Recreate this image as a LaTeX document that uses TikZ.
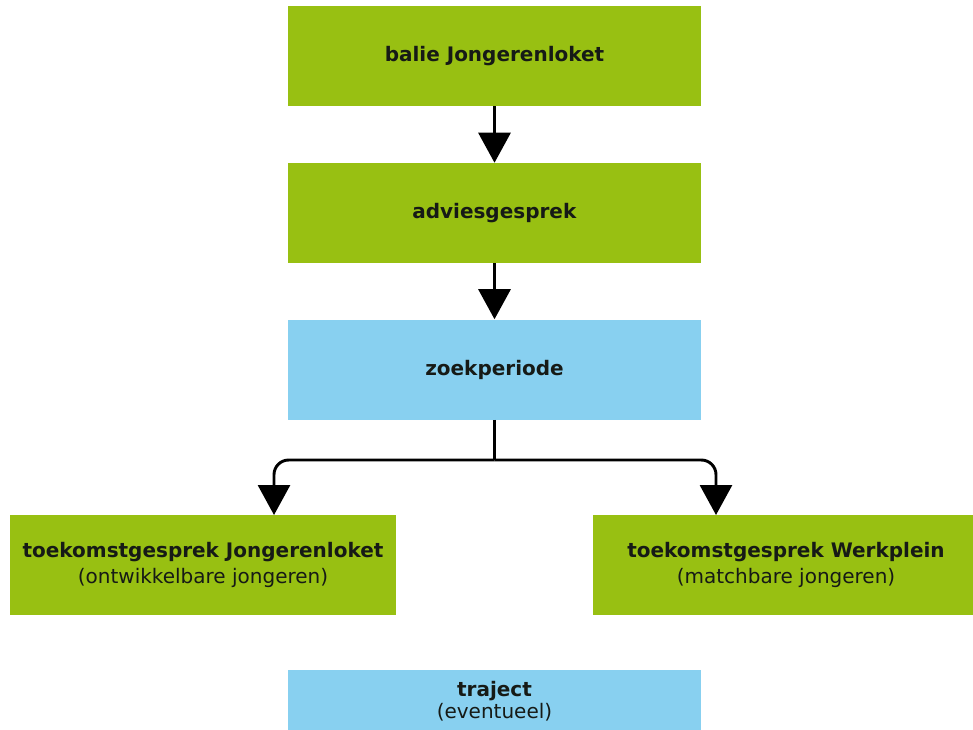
\documentclass[tikz,border=0pt]{standalone}
\usepackage{fontspec}
\setmainfont{DejaVu Sans}
\usetikzlibrary{arrows.meta}
\definecolor{boxgreen}{RGB}{152,192,18}
\definecolor{boxblue}{RGB}{136,208,240}
\definecolor{txt}{RGB}{22,26,22}
\begin{document}
\begin{tikzpicture}[x=0.75pt,y=-0.75pt,
  gbox/.style={fill=boxgreen,draw=none,minimum height=75pt,inner sep=0pt,align=center,text=txt,font=\fontsize{15}{19.5}\selectfont},
  bbox/.style={gbox,fill=boxblue},
  conn/.style={line width=2.2pt,black},
  arr/.style={conn,-{Triangle[width=24pt,length=22.5pt]}}]
\useasboundingbox (0,0) rectangle (973,729);
\clip (0,0) rectangle (973,729);
\node[gbox,minimum width=309.75pt] (b1) at (494.5,56) {\textbf{balie Jongerenloket}};
\node[gbox,minimum width=309.75pt] (b2) at (494.5,213) {\textbf{adviesgesprek}};
\node[bbox,minimum width=309.75pt] (b3) at (494.5,369.5) {\textbf{zoekperiode}};
\node[gbox,minimum width=289.5pt] (b4) at (203,564.5) {\textbf{toekomstgesprek Jongerenloket}\\(ontwikkelbare jongeren)};
\node[gbox,minimum width=289.5pt] (b5) at (786,564.5) {\textbf{toekomstgesprek Werkplein}\\(matchbare jongeren)};
\node[bbox,minimum width=309.75pt] (b6) at (494.5,720) {};
\node[text=txt,align=center,font=\fontsize{15}{16.5}\selectfont] (t6) at (494.5,701) {\textbf{traject}\\(eventueel)};
\draw[arr] (b1.south) -- (b2.north);
\draw[arr] (b2.south) -- (b3.north);
\coordinate (j) at (494.5,460);
\coordinate (l) at (274,515);
\coordinate (r) at (716,515);
\draw[conn] (b3.south) -- (j);
\draw[arr,rounded corners=11pt] (j) -| (l);
\draw[arr,rounded corners=11pt] (j) -| (r);
\end{tikzpicture}
\end{document}
